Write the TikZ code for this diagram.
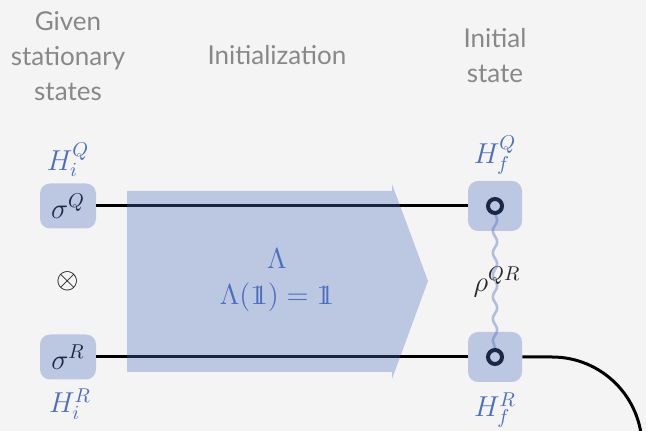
\documentclass[tikz,border=0pt]{standalone}
\usepackage{fontspec}
\newfontfamily\lato{Lato}
\usetikzlibrary{decorations.pathmorphing}
\definecolor{bg}{HTML}{F4F4F4}
\definecolor{qblue}{HTML}{4A6EBE}
\definecolor{navy}{HTML}{1C2646}
\definecolor{graytxt}{HTML}{888888}
\definecolor{mathblue}{HTML}{4A6FC0}
\newcommand{\idone}{\mathrm{1\kern-0.36em1}}
\begin{document}
\begin{tikzpicture}[x=0.5pt,y=-0.5pt,
  lbl/.style={font=\lato\fontsize{13}{17.5}\selectfont, text=graytxt, align=center},
  mth/.style={font=\fontsize{14}{16}\selectfont, text=mathblue, inner sep=0.5pt},
  boxl/.style={fill=qblue, fill opacity=0.33, text opacity=1, rounded corners=5pt, minimum width=28pt, minimum height=22.5pt, inner sep=0pt, text=navy, font=\fontsize{14}{16}\selectfont},
  boxr/.style={fill=qblue, fill opacity=0.33, rounded corners=5pt, minimum width=27pt, minimum height=25pt, inner sep=0pt},
  wire/.style={line width=1.5pt, black},
  ring/.style={circle, draw=navy, line width=2pt, minimum size=7pt, inner sep=0pt},
  wave/.style={draw=qblue, draw opacity=0.4, line width=1.3pt, decorate, decoration={snake, amplitude=1.1pt, segment length=11pt}}
]
\fill[bg] (0,0) rectangle (646,431);
\useasboundingbox (0,0) rectangle (646,431);

% labels
\node[lbl] (given) at (68,56) {Given\\stationary\\states};
\node[lbl] (init) at (277,55) {Initialization};
\node[lbl] (istate) at (495,56) {Initial\\state};

% wave under boxes
\coordinate (wQ) at (495,213);
\coordinate (wR) at (495,350);
\draw[wave] (wQ) -- (wR);

% boxes
\node[boxl] (sQ) at (68,206) {$\sigma^Q$};
\node[boxl] (sR) at (68,357) {$\sigma^R$};
\node[boxr] (fQ) at (495,206) {};
\node[boxr] (fR) at (495,357) {};

% wires
\draw[wire] (sQ.east) -- (fQ.west);
\draw[wire] (sR.east) -- (fR.west);
\draw[wire, rounded corners=45pt] (fR.east) -| (642,520);

% arrow
\fill[qblue, fill opacity=0.33] (127,191) -- (392,191) -- (392,184) -- (428,281) -- (392,379) -- (392,372) -- (127,372) -- cycle;
\node[mth, align=center] (lam) at (277,280) {$\Lambda$\\[2pt]$\Lambda(\idone)=\idone$};

% rings
\node[ring] (cQ) at (495,206) {};
\node[ring] (cR) at (495,357) {};

% math labels
\node[mth] (HiQ) at (68,160) {$H_i^Q$};
\node[mth] (HiR) at (70,404) {$H_i^R$};
\node[mth] (HfQ) at (495,155) {$H_f^Q$};
\node[mth] (HfR) at (495,410) {$H_f^R$};
\node[font=\fontsize{14}{16}\selectfont] (ot) at (68,281) {$\otimes$};
\node[font=\fontsize{14}{16}\selectfont, text=black!85] (rho) at (497,282) {$\rho^{QR}$};
\end{tikzpicture}
\end{document}
